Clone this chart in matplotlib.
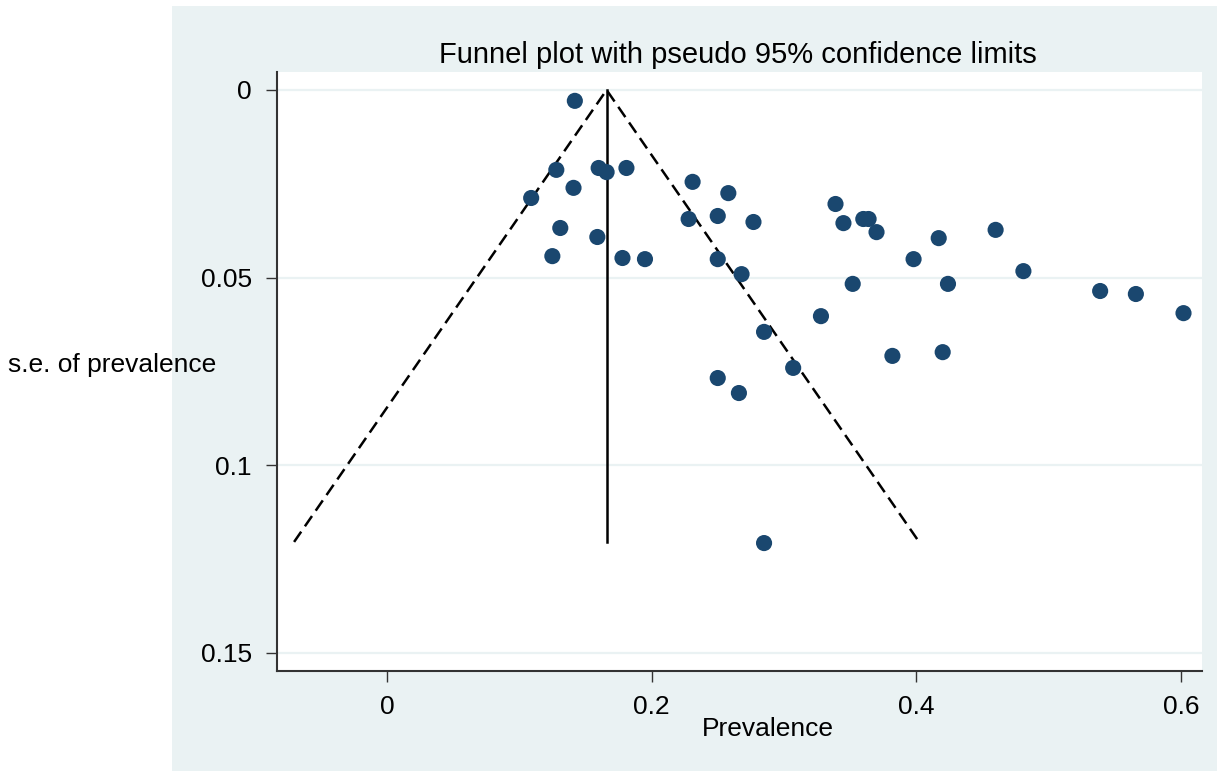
import numpy as np
import matplotlib.pyplot as plt

plt.rcParams['font.family'] = ['Liberation Sans', 'DejaVu Sans']

# valores (prevalencia, erro padrao)
prevalence = [0.142, 0.128, 0.160, 0.166, 0.181, 0.141, 0.109, 0.231, 0.258, 0.131,
              0.159, 0.125, 0.178, 0.195, 0.228, 0.250, 0.277, 0.250, 0.268, 0.339,
              0.345, 0.360, 0.364, 0.370, 0.417, 0.460, 0.398, 0.352, 0.424, 0.481,
              0.539, 0.566, 0.602, 0.328, 0.285, 0.382, 0.420, 0.307, 0.250, 0.266,
              0.285]
se_prev = [0.0029, 0.0213, 0.0208, 0.0219, 0.0208, 0.0261, 0.0288, 0.0245, 0.0275, 0.0368,
           0.0392, 0.0443, 0.0448, 0.0451, 0.0344, 0.0336, 0.0352, 0.0451, 0.0491, 0.0304,
           0.0355, 0.0344, 0.0344, 0.0379, 0.0395, 0.0373, 0.0451, 0.0517, 0.0517, 0.0483,
           0.0536, 0.0544, 0.0595, 0.0603, 0.0645, 0.0709, 0.0699, 0.0741, 0.0768, 0.0808,
           0.1208]

pooled = 0.166
se_max = 0.1205

xticks = [0, 0.2, 0.4, 0.6]
xtick_labels = ['0', '0.2', '0.4', '0.6']
yticks = [0, 0.05, 0.1, 0.15]
ytick_labels = ['0', '0.05', '0.1', '0.15']

bg = '#EAF2F3'
navy = '#1A476F'

fig = plt.figure(figsize=(12.17, 7.73), dpi=100)

# regiao de fundo do grafico (estilo stata)
bgax = fig.add_axes([0.1413, 0.0026, 0.8587, 0.9896], zorder=-1)
bgax.set_facecolor(bg)
bgax.set_xticks([])
bgax.set_yticks([])
for s in bgax.spines.values():
    s.set_visible(False)

ax = fig.add_axes([0.2276, 0.1320, 0.7601, 0.7749])
ax.set_facecolor('white')

for y in yticks:
    ax.axhline(y, color=bg, lw=1.6, zorder=1)

# limites de confianca (pseudo 95%)
ax.plot([pooled - 1.96 * se_max, pooled, pooled + 1.96 * se_max], [se_max, 0, se_max],
        color='black', lw=1.8, dashes=(5, 2.6), zorder=2)
ax.plot([pooled, pooled], [0, se_max], color='black', lw=1.8, zorder=2)

ax.scatter(prevalence, se_prev, s=135, color=navy, edgecolors='none', zorder=3)

ax.set_xlim(-0.0831, 0.616)
ax.set_ylim(0.1549, -0.0048)
ax.set_xticks(xticks)
ax.set_xticklabels(xtick_labels)
ax.set_yticks(yticks)
ax.set_yticklabels(ytick_labels)
ax.tick_params(axis='both', labelsize=19, length=8, width=1, color='#333333',
               direction='out')
ax.tick_params(axis='y', pad=10)
ax.tick_params(axis='x', pad=9)

for s in ['top', 'right']:
    ax.spines[s].set_visible(False)
for s in ['left', 'bottom']:
    ax.spines[s].set_color('#333333')
    ax.spines[s].set_linewidth(1.5)

fig.text(0.606, 0.9288, 'Funnel plot with pseudo 95% confidence limits',
         ha='center', va='center', fontsize=21)
fig.text(8 / 1217, 1 - 365 / 773, 's.e. of prevalence', ha='left', va='center',
         fontsize=19)
fig.text(768 / 1217, 1 - 729 / 773, 'Prevalence', ha='center', va='center',
         fontsize=19)

plt.savefig('out.png', dpi=100)
